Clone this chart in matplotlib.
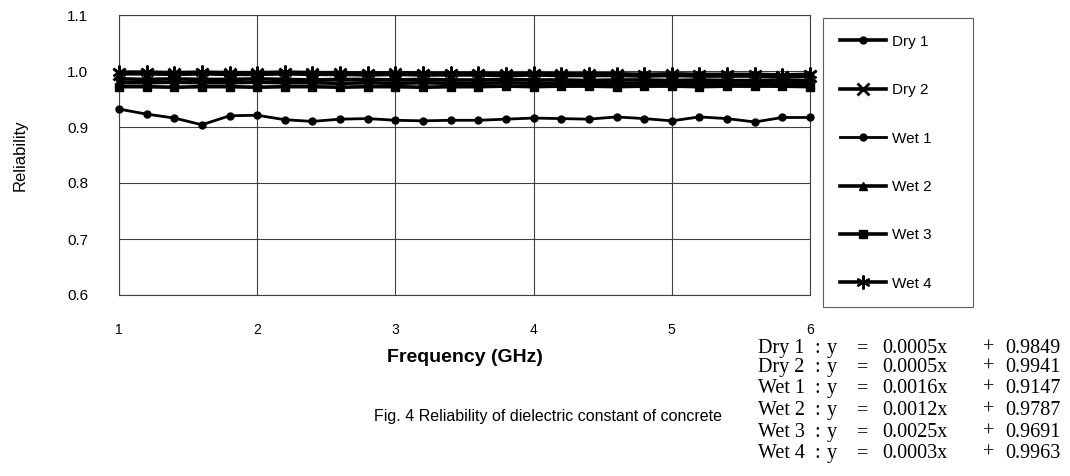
import matplotlib
matplotlib.use("Agg")
import matplotlib.pyplot as plt

# ---------------- data ----------------
freq = [1.0, 1.2, 1.4, 1.6, 1.8, 2.0, 2.2, 2.4, 2.6, 2.8, 3.0, 3.2, 3.4,
        3.6, 3.8, 4.0, 4.2, 4.4, 4.6, 4.8, 5.0, 5.2, 5.4, 5.6, 5.8, 6.0]

dry1 = [0.986, 0.985, 0.986, 0.985, 0.985, 0.986, 0.985, 0.984, 0.985,
        0.985, 0.984, 0.985, 0.984, 0.984, 0.985, 0.984, 0.984, 0.983,
        0.984, 0.984, 0.983, 0.984, 0.983, 0.983, 0.984, 0.983]
dry2 = [0.995, 0.995, 0.994, 0.995, 0.994, 0.994, 0.995, 0.994, 0.994,
        0.993, 0.994, 0.993, 0.993, 0.993, 0.992, 0.993, 0.992, 0.992,
        0.992, 0.991, 0.992, 0.991, 0.991, 0.991, 0.990, 0.991]
wet1 = [0.932, 0.923, 0.916, 0.904, 0.920, 0.921, 0.913, 0.910, 0.914,
        0.915, 0.912, 0.911, 0.912, 0.912, 0.914, 0.916, 0.915, 0.914,
        0.918, 0.915, 0.911, 0.918, 0.915, 0.909, 0.917, 0.917]
wet2 = [0.979, 0.979, 0.980, 0.979, 0.979, 0.980, 0.979, 0.979, 0.978,
        0.979, 0.978, 0.979, 0.978, 0.978, 0.979, 0.978, 0.978, 0.977,
        0.978, 0.978, 0.977, 0.978, 0.977, 0.977, 0.978, 0.977]
wet3 = [0.972, 0.972, 0.971, 0.972, 0.972, 0.971, 0.972, 0.972, 0.971,
        0.972, 0.972, 0.971, 0.972, 0.972, 0.973, 0.972, 0.973, 0.973,
        0.972, 0.973, 0.973, 0.972, 0.973, 0.973, 0.973, 0.972]
wet4 = [0.998, 0.998, 0.997, 0.998, 0.997, 0.997, 0.998, 0.997, 0.997,
        0.996, 0.997, 0.996, 0.996, 0.996, 0.995, 0.996, 0.995, 0.995,
        0.995, 0.994, 0.995, 0.994, 0.994, 0.994, 0.993, 0.994]

series_names = ["Dry 1", "Dry 2", "Wet 1", "Wet 2", "Wet 3", "Wet 4"]
slopes = ["0.0005", "0.0005", "0.0016", "0.0012", "0.0025", "0.0003"]
intercepts = ["0.9849", "0.9941", "0.9147", "0.9787", "0.9691", "0.9963"]

x_ticks = [1, 2, 3, 4, 5, 6]
x_ticklabels = ["1", "2", "3", "4", "5", "6"]
y_ticks = [0.6, 0.7, 0.8, 0.9, 1.0, 1.1]
y_ticklabels = ["0.6", "0.7", "0.8", "0.9", "1.0", "1.1"]

x_label = "Frequency (GHz)"
y_label = "Reliability"
caption = "Fig. 4 Reliability of dielectric constant of concrete"

# ---------------- figure ----------------
W, H = 1070, 476
fig = plt.figure(figsize=(W / 100, H / 100), dpi=100)
sans = ["Liberation Sans", "DejaVu Sans"]
serif = ["Liberation Serif", "DejaVu Serif"]

ax = fig.add_axes([119 / W, 1 - 295 / H, (810 - 119) / W, (295 - 15) / H])

styles = [
    dict(data=dry1, marker="o", ms=5, lw=2.6, mew=1),
    dict(data=dry2, marker="x", ms=8, lw=2.6, mew=2),
    dict(data=wet1, marker="o", ms=5, lw=2.0, mew=1),
    dict(data=wet2, marker="^", ms=6, lw=2.6, mew=1),
    dict(data=wet3, marker="s", ms=6, lw=2.6, mew=1),
    dict(data=wet4, marker=(6, 2, 0), ms=10, lw=2.6, mew=1.5),
]
handles = []
for name, st in zip(series_names, styles):
    h, = ax.plot(freq, st["data"], color="black", lw=st["lw"],
                 marker=st["marker"], ms=st["ms"], mew=st["mew"],
                 mfc="black", mec="black", label=name, clip_on=False,
                 zorder=3)
    handles.append(h)

ax.set_xlim(1, 6)
ax.set_ylim(0.6, 1.1)
ax.set_xticks(x_ticks)
ax.set_xticklabels(x_ticklabels, fontfamily=sans, fontsize=10)
ax.set_yticks(y_ticks)
ax.set_yticklabels(y_ticklabels, fontfamily=sans, fontsize=11)
ax.tick_params(axis="both", length=0)
ax.tick_params(axis="x", pad=20)
ax.tick_params(axis="y", pad=22)
ax.grid(True, color="0.25", lw=0.8)
for sp in ax.spines.values():
    sp.set_color("0.25")
    sp.set_linewidth(0.8)

ax.set_xlabel(x_label, fontfamily=sans, fontsize=14, fontweight="bold",
              labelpad=9)
fig.text(20 / W, 1 - 155 / H, y_label, rotation=90, ha="center",
         va="center", fontfamily=sans, fontsize=12)

# legend box
leg = fig.legend(handles=handles, loc="upper left",
                 bbox_to_anchor=(823 / W, 1 - 18 / H, 150 / W, 0.0),
                 mode="expand", frameon=True, fancybox=False,
                 edgecolor="0.2", borderaxespad=0, borderpad=1.1,
                 labelspacing=2.25, handlelength=3.0, handletextpad=0.4,
                 prop=dict(family=sans, size=11))
leg.get_frame().set_linewidth(0.8)

# caption
fig.text(548 / W, 1 - 416 / H, caption, ha="center", va="center",
         fontfamily=sans, fontsize=11.5)

# regression equations (baseline aligned)
eq_base = [353, 372, 393, 415, 437, 458]
for name, s, b, yy in zip(series_names, slopes, intercepts, eq_base):
    yf = 1 - yy / H
    kw = dict(va="baseline", fontfamily=serif, fontsize=14.5)
    fig.text(758 / W, yf, name, ha="left", **kw)
    fig.text(814 / W, yf, ":", ha="left", **kw)
    fig.text(827 / W, yf, "y", ha="left", **kw)
    fig.text(857 / W, yf, "=", ha="left", **kw)
    fig.text(882 / W, yf, f"{s}x", ha="left", **kw)
    fig.text(989 / W, yf, "+", ha="center", **kw)
    fig.text(1005 / W, yf, b, ha="left", **kw)

fig.savefig("out.png", dpi=100)
